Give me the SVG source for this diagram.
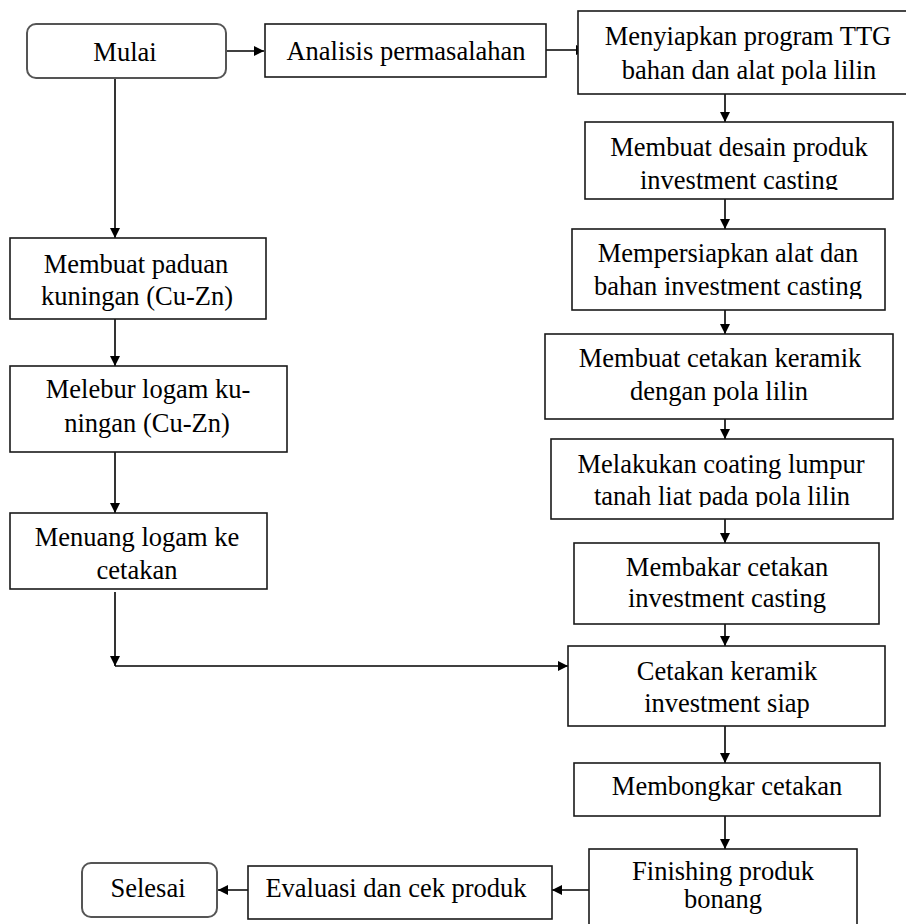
<svg xmlns="http://www.w3.org/2000/svg" width="906" height="924" viewBox="0 0 906 924">
<style>
.box{fill:#fff;stroke:#1a1a1a;stroke-width:1.6}
.term{fill:#fff;stroke:#555;stroke-width:2}
.t{font-family:'Liberation Serif','DejaVu Serif',serif;font-size:26.5px;fill:#000;text-anchor:middle}
.c{fill:none;stroke:#000;stroke-width:1.6}
</style>
<defs>
<marker id="ah" markerUnits="userSpaceOnUse" markerWidth="11" markerHeight="11" refX="10" refY="5" orient="auto">
<path d="M0,0 L10,5 L0,10 z" fill="#000"/>
</marker>
<clipPath id="cpDesain"><rect x="585" y="122" width="308" height="68"/></clipPath>
<clipPath id="cpPersiapan"><rect x="572" y="229" width="313" height="70"/></clipPath>
<clipPath id="cpCoating"><rect x="551" y="439" width="342" height="68"/></clipPath>
</defs>
<rect width="906" height="924" fill="#fff"/>

<g id="connectors">
<path class="c" d="M226,51 H264" marker-end="url(#ah)"/>
<path class="c" d="M546,50 H586" marker-end="url(#ah)"/>
<path class="c" d="M725,94 V122" marker-end="url(#ah)"/>
<path class="c" d="M725,199 V229" marker-end="url(#ah)"/>
<path class="c" d="M725,310 V334" marker-end="url(#ah)"/>
<path class="c" d="M725,419 V439" marker-end="url(#ah)"/>
<path class="c" d="M725,519 V543" marker-end="url(#ah)"/>
<path class="c" d="M725,624 V646" marker-end="url(#ah)"/>
<path class="c" d="M725,726 V763" marker-end="url(#ah)"/>
<path class="c" d="M725,816 V849" marker-end="url(#ah)"/>
<path class="c" d="M115,73 V238" marker-end="url(#ah)"/>
<path class="c" d="M115,317 V366" marker-end="url(#ah)"/>
<path class="c" d="M115,443 V513" marker-end="url(#ah)"/>
<path class="c" d="M115,592 V666" marker-end="url(#ah)"/>
<path class="c" d="M115,666 H568" marker-end="url(#ah)"/>
<path class="c" d="M589,890 H552" marker-end="url(#ah)"/>
<path class="c" d="M261,890 H218" marker-end="url(#ah)"/>
</g>

<g id="mulai">
<rect class="term" x="27" y="24" width="199" height="54" rx="9"/>
<text class="t" x="125" y="61">Mulai</text>
</g>
<g id="analisis">
<rect class="box" x="265" y="24" width="281" height="53"/>
<text class="t" x="406" y="60">Analisis permasalahan</text>
</g>
<g id="menyiapkan">
<rect class="box" x="578" y="11" width="330" height="83"/>
<text class="t" x="748" y="45">Menyiapkan program TTG</text>
<text class="t" x="749" y="79">bahan dan alat pola lilin</text>
</g>
<g id="desain">
<rect class="box" x="585" y="122" width="308" height="77"/>
<g clip-path="url(#cpDesain)">
<text class="t" x="739" y="156">Membuat desain produk</text>
<text class="t" x="739" y="189">investment casting</text>
</g>
</g>
<g id="persiapan">
<rect class="box" x="572" y="229" width="313" height="81"/>
<g clip-path="url(#cpPersiapan)">
<text class="t" x="728" y="262">Mempersiapkan alat dan</text>
<text class="t" x="728" y="295">bahan investment casting</text>
</g>
</g>
<g id="cetakan-keramik">
<rect class="box" x="545" y="334" width="348" height="85"/>
<text class="t" x="720" y="367">Membuat cetakan keramik</text>
<text class="t" x="719" y="400">dengan pola lilin</text>
</g>
<g id="coating">
<rect class="box" x="551" y="439" width="342" height="80"/>
<g clip-path="url(#cpCoating)">
<text class="t" x="721" y="473">Melakukan coating lumpur</text>
<text class="t" x="722" y="505">tanah liat pada pola lilin</text>
</g>
</g>
<g id="membakar">
<rect class="box" x="574" y="543" width="305" height="81"/>
<text class="t" x="727" y="576">Membakar cetakan</text>
<text class="t" x="727" y="607">investment casting</text>
</g>
<g id="cetakan-siap">
<rect class="box" x="568" y="646" width="317" height="80"/>
<text class="t" x="727" y="680">Cetakan keramik</text>
<text class="t" x="727" y="712">investment siap</text>
</g>
<g id="membongkar">
<rect class="box" x="574" y="763" width="306" height="53"/>
<text class="t" x="727" y="795">Membongkar cetakan</text>
</g>
<g id="finishing">
<rect class="box" x="589" y="849" width="268" height="80"/>
<text class="t" x="723" y="880">Finishing produk</text>
<text class="t" x="723" y="908">bonang</text>
</g>
<g id="evaluasi">
<rect class="box" x="248" y="866" width="304" height="53"/>
<text class="t" x="396" y="897">Evaluasi dan cek produk</text>
</g>
<g id="selesai">
<rect class="term" x="82" y="863" width="135" height="54" rx="9"/>
<text class="t" x="148" y="897">Selesai</text>
</g>
<g id="paduan">
<rect class="box" x="10" y="238" width="256" height="81"/>
<text class="t" x="136" y="273">Membuat paduan</text>
<text class="t" x="137" y="305">kuningan (Cu-Zn)</text>
</g>
<g id="melebur">
<rect class="box" x="10" y="366" width="277" height="86"/>
<text class="t" x="148" y="398">Melebur logam ku-</text>
<text class="t" x="147" y="432">ningan (Cu-Zn)</text>
</g>
<g id="menuang">
<rect class="box" x="10" y="513" width="257" height="76"/>
<text class="t" x="137" y="546">Menuang logam ke</text>
<text class="t" x="137" y="579">cetakan</text>
</g>
</svg>
